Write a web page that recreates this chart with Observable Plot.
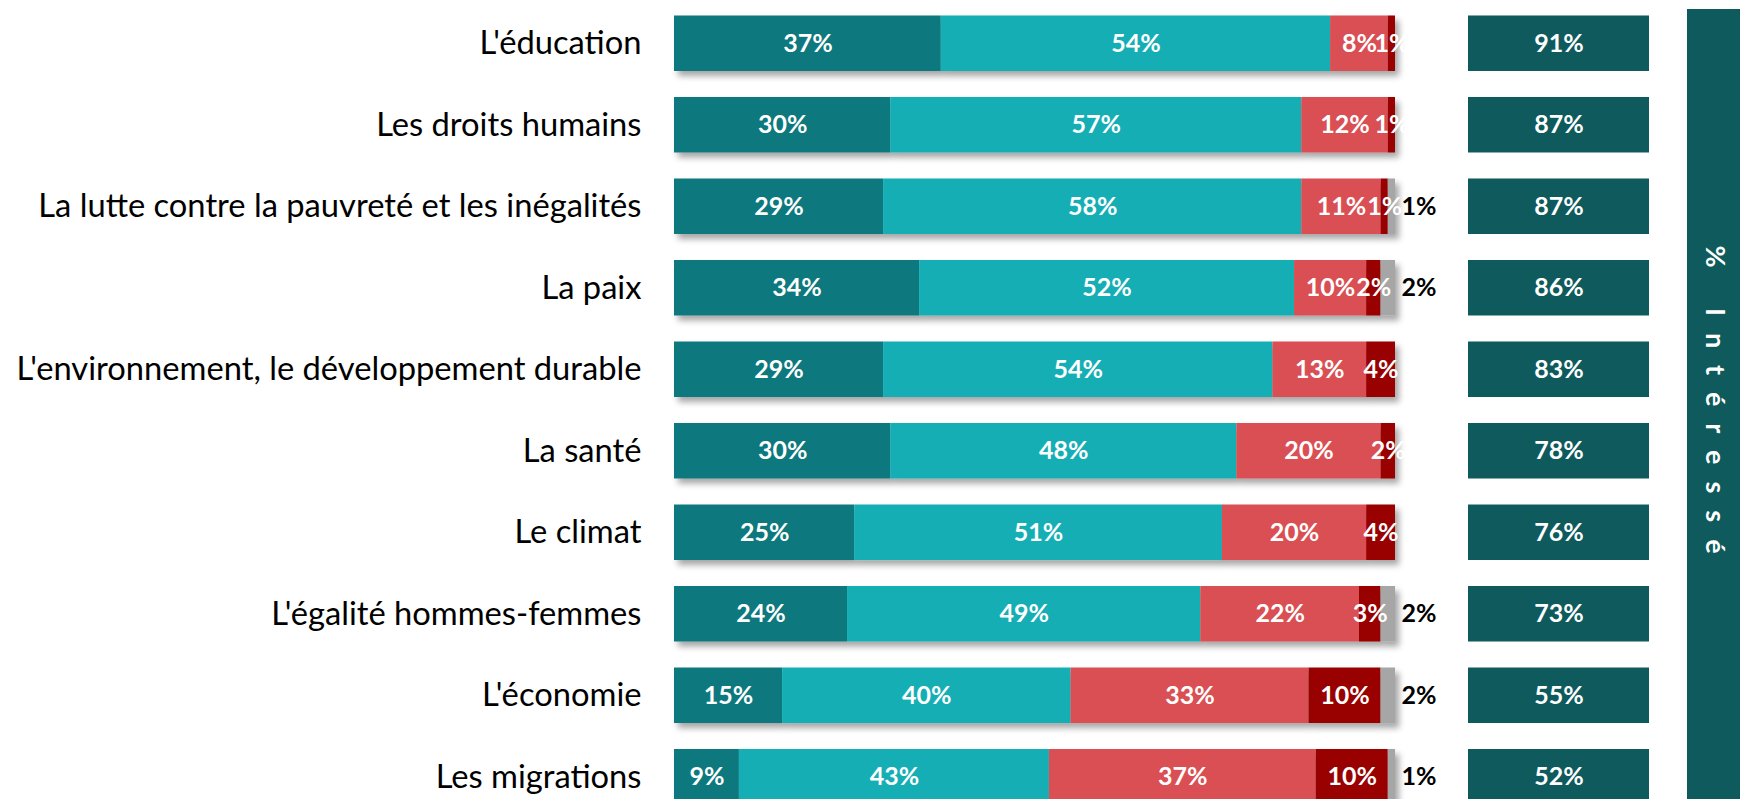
<!DOCTYPE html>
<html>
<head>
<meta charset="utf-8">
<script src="https://cdn.jsdelivr.net/npm/d3@7"></script>
<script src="https://cdn.jsdelivr.net/npm/@observablehq/plot@0.6"></script>
<style>
html, body { margin: 0; padding: 0; overflow: hidden; background: #fff; width: 1740px; height: 799px; }
#wrap { position: relative; width: 1740px; height: 799px; overflow: hidden; }
#main { position: absolute; left: 0; top: 0; }
#side { position: absolute; left: 1468px; top: 0; }
#band { position: absolute; left: 1687px; top: 9px; width: 60px; height: 800px; background: #0e5a5c; }
#band span { position: absolute; left: 29px; top: 399px; transform: translate(-50%, -50%);
  writing-mode: vertical-rl; color: #fff; font-family: Lato, sans-serif; font-weight: bold;
  font-size: 27px; letter-spacing: 17px; white-space: nowrap; }
</style>
</head>
<body>
<div id="wrap">
  <div id="main"></div>
  <div id="side"></div>
  <div id="band"><span>% Intéressé</span></div>
</div>
<script>
// ---- Data ----
const categories = [
  "L'éducation",
  "Les droits humains",
  "La lutte contre la pauvreté et les inégalités",
  "La paix",
  "L'environnement, le développement durable",
  "La santé",
  "Le climat",
  "L'égalité hommes-femmes",
  "L'économie",
  "Les migrations"
];
const seriesNames = ["Très intéressé", "Plutôt intéressé", "Plutôt pas intéressé", "Pas du tout intéressé", "Ne sait pas"];
const tresInteresse   = [37, 30, 29, 34, 29, 30, 25, 24, 15, 9];
const plutotInteresse = [54, 57, 58, 52, 54, 48, 51, 49, 40, 43];
const plutotPas       = [8, 12, 11, 10, 13, 20, 20, 22, 33, 37];
const pasDuTout       = [1, 1, 1, 2, 4, 2, 4, 3, 10, 10];
const nsp             = [0, 0, 1, 2, 0, 0, 0, 2, 2, 1];
const totalInteresse  = [91, 87, 87, 86, 83, 78, 76, 73, 55, 52];
const seriesColors = ["#10787d", "#14aeb5", "#d94f52", "#990000", "#a6a6a6"];

// ---- Build tables ----
const seriesValues = [tresInteresse, plutotInteresse, plutotPas, pasDuTout, nsp];
const rows = [];
categories.forEach((c, i) => {
  seriesNames.forEach((s, j) => rows.push({category: c, series: s, value: seriesValues[j][i]}));
});
const nspRows = categories.map((c, i) => ({
  category: c,
  value: nsp[i],
  end: d3.sum(seriesValues, arr => arr[i])
})).filter(d => d.value > 0);
const sideRows = categories.map((c, i) => ({category: c, total: totalInteresse[i]}));

const yScale = {domain: categories, paddingInner: 0.319, paddingOuter: 0.19, align: 0.5, round: false, axis: null, label: null};

// ---- Main chart ----
const main = Plot.plot({
  width: 1440,
  height: 820,
  marginLeft: 674,
  marginRight: 45,
  marginTop: 0,
  marginBottom: 0,
  style: {fontFamily: "Lato, sans-serif", background: "transparent"},
  x: {domain: [0, 100], axis: null},
  y: yScale,
  color: {domain: seriesNames, range: seriesColors},
  marks: [
    Plot.barX(rows, {x: "value", y: "category", fill: "series", order: seriesNames, inset: 0}),
    Plot.text(rows, Plot.stackX({
      x: "value", y: "category", z: "series", order: seriesNames,
      text: d => (d.series === "Ne sait pas" || d.value === 0) ? "" : d.value + "%",
      fill: "white", fontWeight: "bold", fontSize: 25
    })),
    Plot.text(nspRows, {
      x: "end", y: "category", text: d => d.value + "%",
      textAnchor: "start", dx: 6, fill: "black", fontWeight: "bold", fontSize: 25
    }),
    Plot.axisY({tickSize: 0, tickPadding: 33, fontSize: 32.7, fill: "black", label: null})
  ]
});
// drop shadow on bars
const ns = "http://www.w3.org/2000/svg";
const defs = document.createElementNS(ns, "defs");
defs.innerHTML = '<filter id="shadow" x="-5%" y="-20%" width="115%" height="160%"><feDropShadow dx="4" dy="5" stdDeviation="3" flood-color="#000" flood-opacity="0.35"/></filter>';
main.insertBefore(defs, main.firstChild);
const barG = main.querySelector('g[aria-label="bar"]');
if (barG) barG.setAttribute("filter", "url(#shadow)");
document.getElementById("main").appendChild(main);

// ---- Side boxes (% intéressé) ----
const side = Plot.plot({
  width: 181,
  height: 820,
  margin: 0,
  style: {fontFamily: "Lato, sans-serif", background: "transparent"},
  x: {domain: ["% Intéressé"], padding: 0, axis: null},
  y: yScale,
  marks: [
    Plot.cell(sideRows, {x: () => "% Intéressé", y: "category", fill: "#0e5a5c", inset: 0}),
    Plot.text(sideRows, {x: () => "% Intéressé", y: "category", text: d => d.total + "%",
      fill: "white", fontWeight: "bold", fontSize: 25})
  ]
});
document.getElementById("side").appendChild(side);
</script>
</body>
</html>
